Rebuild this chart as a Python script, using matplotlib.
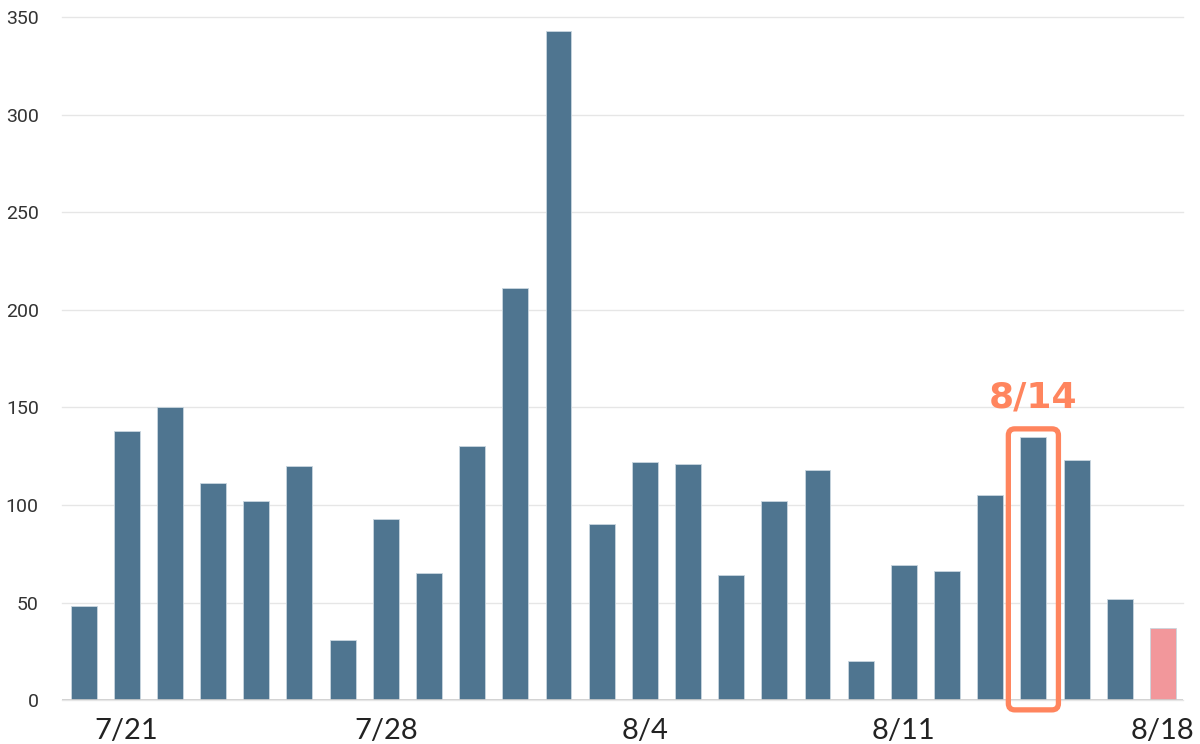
import matplotlib.pyplot as plt
from matplotlib.patches import FancyBboxPatch

# 日付 (日曜日なし)
dates = ["7/20", "7/21", "7/22", "7/23", "7/24", "7/25", "7/27", "7/28", "7/29",
         "7/30", "7/31", "8/1", "8/3", "8/4", "8/5", "8/6", "8/7", "8/8", "8/10",
         "8/11", "8/12", "8/13", "8/14", "8/15", "8/17", "8/18"]
counts = [48, 138, 150, 111, 102, 120, 31, 93, 65, 130, 211, 343, 90, 122, 121,
          64, 102, 118, 20, 69, 66, 105, 135, 123, 52, 37]
shown_labels = ["7/21", "7/28", "8/4", "8/11", "8/18"]
highlight = "8/14"

plt.rcParams["font.family"] = ["Noto Sans CJK JP", "DejaVu Sans"]

fig = plt.figure(figsize=(12, 7.44), dpi=100)
ax = fig.add_axes([0.052, 0.059, 0.934, 0.918])

x = list(range(len(dates)))
colors = ["#4f7590"] * len(dates)
colors[-1] = "#f2979b"
ax.bar(x, counts, width=0.6, color=colors, edgecolor="#c9d6df", linewidth=0.6, zorder=3)

ax.set_xlim(-0.49, len(dates) - 0.53)
ax.set_ylim(0, 350)
ax.set_yticks(range(0, 351, 50))
ax.grid(axis="y", color="#e6e6e6", linewidth=1, zorder=0)
for gl in ax.get_ygridlines():
    gl.set_clip_on(False)
ax.axhline(0, color="#cccccc", linewidth=1.2, zorder=4)

ticks = [dates.index(d) for d in shown_labels]
ax.set_xticks(ticks)
ax.set_xticklabels(shown_labels, fontsize=21, color="#222222", family="Lato")
ax.tick_params(axis="x", length=0, pad=13)
ax.tick_params(axis="y", length=0, pad=17, labelsize=14, labelcolor="#333333")
for lbl in ax.get_yticklabels():
    lbl.set_family("Roboto")
for s in ax.spines.values():
    s.set_visible(False)

# 8/14 のハイライト
hi = dates.index(highlight)
box = FancyBboxPatch((hi - 0.58, -5), 1.16, 144,
                     boxstyle="round,pad=0,rounding_size=0.15",
                     mutation_aspect=22,
                     facecolor="none", edgecolor="#ff855e", linewidth=3.8,
                     clip_on=False, zorder=5)
ax.add_patch(box)
ax.text(hi, 155, highlight, ha="center", va="center", fontsize=26,
        fontweight="bold", color="#ff855e", family="DejaVu Sans")

fig.savefig("out.png")
